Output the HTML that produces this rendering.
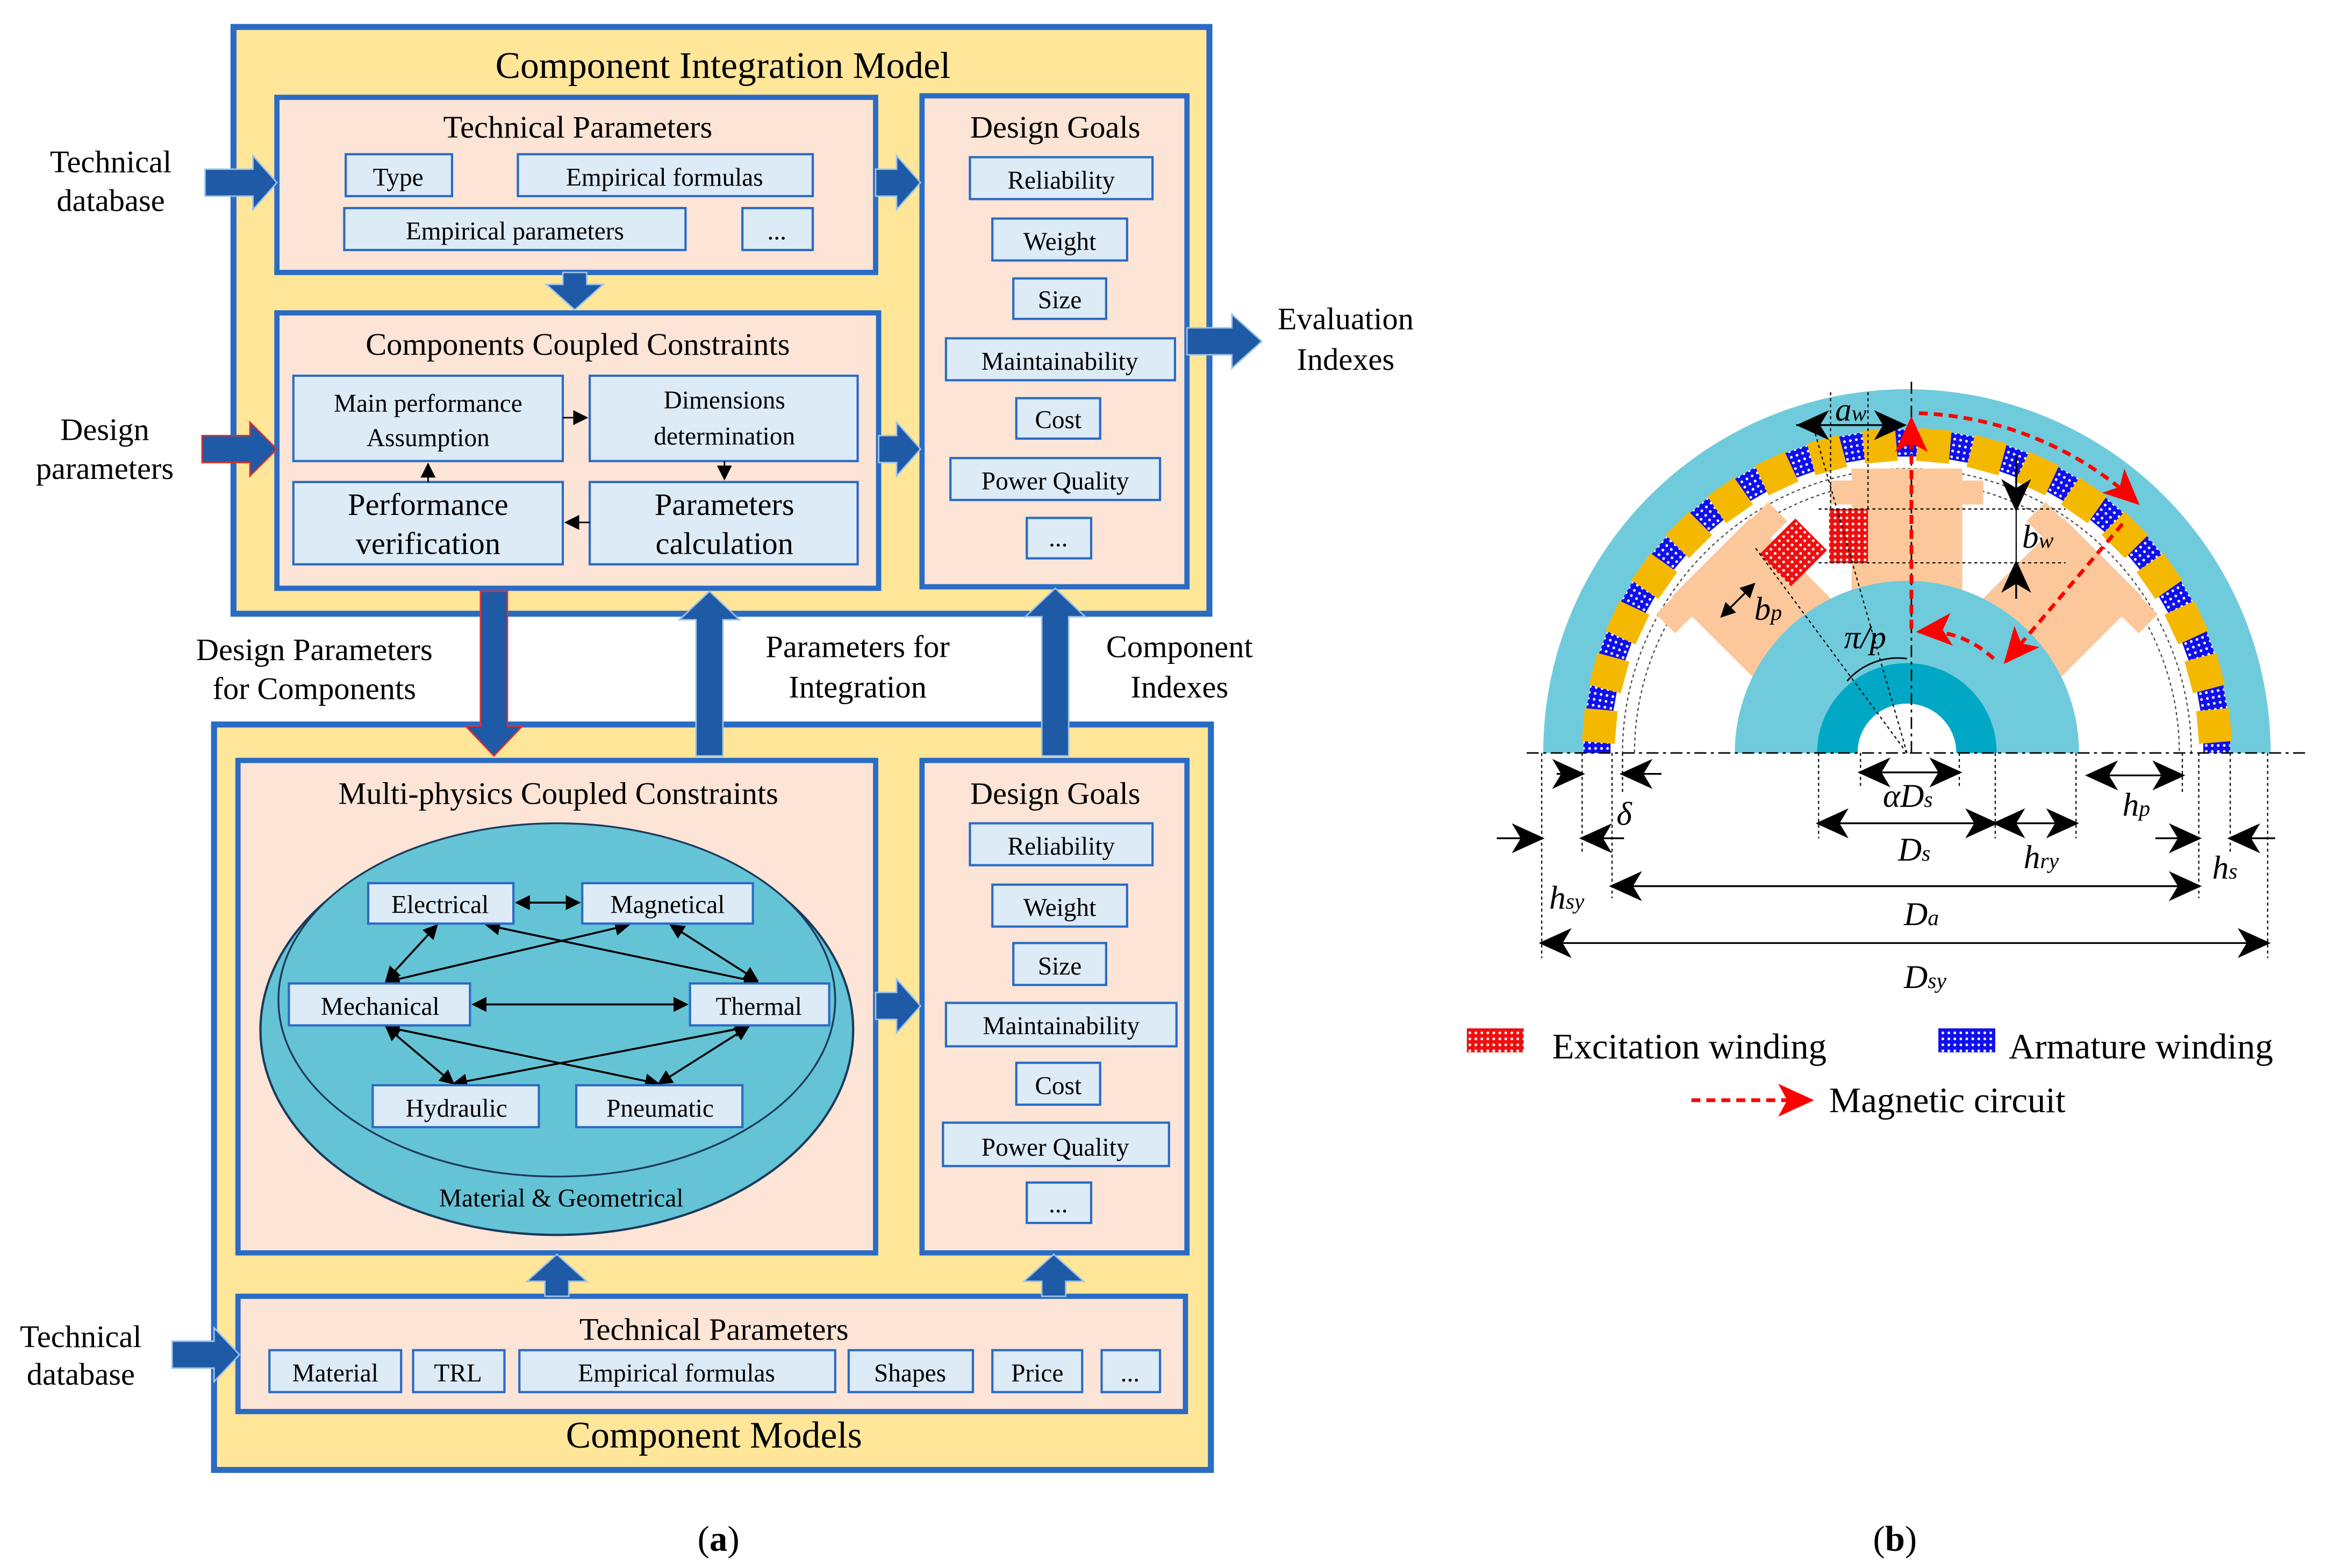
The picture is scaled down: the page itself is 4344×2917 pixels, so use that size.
<!DOCTYPE html>
<html><head><meta charset="utf-8"><style>
html,body{margin:0;padding:0;background:#fff}
svg{display:block}
text{font-family:"Liberation Serif",serif;fill:#000}
</style></head><body>
<svg width="4344" height="2917" viewBox="0 0 1560 1047.5" xmlns="http://www.w3.org/2000/svg">
<defs>
<pattern id="pb" width="4" height="4" patternUnits="userSpaceOnUse"><rect width="4" height="4" fill="#1010ee"/><circle cx="2" cy="2" r="0.9" fill="#fff"/></pattern>
<pattern id="pr" width="4" height="4" patternUnits="userSpaceOnUse"><rect width="4" height="4" fill="#ee1010"/><circle cx="2" cy="2" r="0.9" fill="#fff"/></pattern>
<clipPath id="top"><rect x="1000" y="200" width="560" height="303"/></clipPath>
<marker id="ak" markerWidth="10" markerHeight="10" refX="9" refY="5" orient="auto" markerUnits="userSpaceOnUse"><path d="M0,0 L10,5 L0,10 z" fill="#000"/></marker>
<marker id="akb" markerWidth="10" markerHeight="10" refX="1" refY="5" orient="auto" markerUnits="userSpaceOnUse"><path d="M10,0 L0,5 L10,10 z" fill="#000"/></marker>
<marker id="bk" markerWidth="22" markerHeight="20" refX="20" refY="10" orient="auto" markerUnits="userSpaceOnUse"><path d="M0,0 L22,10 L0,20 L6,10 z" fill="#000"/></marker>
<marker id="bkb" markerWidth="22" markerHeight="20" refX="2" refY="10" orient="auto" markerUnits="userSpaceOnUse"><path d="M22,0 L0,10 L22,20 L16,10 z" fill="#000"/></marker>
<marker id="rk" markerWidth="24" markerHeight="22" refX="22" refY="11" orient="auto" markerUnits="userSpaceOnUse"><path d="M0,0 L24,11 L0,22 L6,11 z" fill="#f00"/></marker>
</defs>

<!-- ===== TOP FRAME ===== -->
<g stroke="#2a6bc4">
<rect x="156" y="18" width="652" height="392" fill="#ffe699" stroke-width="4"/>
<rect x="185" y="65" width="400" height="117" fill="#fce4d6" stroke-width="3.5"/>
<rect x="185" y="209" width="402" height="184" fill="#fce4d6" stroke-width="3.5"/>
<rect x="616" y="64" width="177" height="328" fill="#fce4d6" stroke-width="3.5"/>
</g>
<text x="483" y="52" font-size="25" text-anchor="middle">Component Integration Model</text>
<text x="386" y="92" font-size="21" text-anchor="middle">Technical Parameters</text>
<text x="386" y="237" font-size="21" text-anchor="middle">Components Coupled Constraints</text>
<text x="705" y="92" font-size="21" text-anchor="middle">Design Goals</text>

<g fill="#ddebf7" stroke="#2a6bc4" stroke-width="1.5">
<rect x="231" y="103" width="71" height="28"/><rect x="346" y="103" width="197" height="28"/>
<rect x="230" y="139" width="228" height="28"/><rect x="496" y="139" width="47" height="28"/>
<rect x="196" y="251" width="180" height="57"/><rect x="394" y="251" width="179" height="57"/>
<rect x="196" y="322" width="180" height="55"/><rect x="394" y="322" width="179" height="55"/>
<rect x="648" y="105" width="122" height="28"/><rect x="663" y="146" width="90" height="28"/>
<rect x="677" y="186" width="62" height="27"/><rect x="632" y="226" width="153" height="28"/>
<rect x="679" y="266" width="56" height="27"/><rect x="635" y="306" width="140" height="28"/>
<rect x="686" y="346" width="43" height="27"/>
</g>
<g font-size="17" text-anchor="middle">
<text x="266" y="124">Type</text><text x="444" y="124">Empirical formulas</text>
<text x="344" y="160">Empirical parameters</text><text x="519" y="160">...</text>
<text x="286" y="275">Main  performance</text><text x="286" y="298">Assumption</text>
<text x="484" y="273">Dimensions</text><text x="484" y="297">determination</text>
<text x="286" y="344" font-size="21">Performance</text><text x="286" y="370" font-size="21">verification</text>
<text x="484" y="344" font-size="21">Parameters</text><text x="484" y="370" font-size="21">calculation</text>
<text x="709" y="126">Reliability</text><text x="708" y="167">Weight</text>
<text x="708" y="206">Size</text><text x="708" y="247">Maintainability</text>
<text x="707" y="286">Cost</text><text x="705" y="327">Power Quality</text>
<text x="707" y="365">...</text>
</g>
<g stroke="#000" stroke-width="1.2" fill="none">
<line x1="376" y1="279" x2="392" y2="279" marker-end="url(#ak)" stroke-width="1"/>
<line x1="484" y1="308" x2="484" y2="320" marker-end="url(#ak)" stroke-width="1"/>
<line x1="394" y1="349" x2="378" y2="349" marker-end="url(#ak)" stroke-width="1"/>
<line x1="286" y1="322" x2="286" y2="310" marker-end="url(#ak)" stroke-width="1"/>
</g>

<g font-size="21" text-anchor="middle">
<text x="74" y="115">Technical</text><text x="74" y="141">database</text>
<text x="70" y="294">Design</text><text x="70" y="320">parameters</text>
<text x="899" y="220">Evaluation</text><text x="899" y="247">Indexes</text>
<text x="210" y="441">Design Parameters</text><text x="210" y="467">for Components</text>
<text x="573" y="439">Parameters for</text><text x="573" y="466">Integration</text>
<text x="788" y="439">Component</text><text x="788" y="466">Indexes</text>
<text x="54" y="900">Technical</text><text x="54" y="925">database</text>
<text x="480" y="1036" font-size="24">(<tspan font-weight="bold">a</tspan>)</text>
<text x="1266" y="1036" font-size="24">(<tspan font-weight="bold">b</tspan>)</text>
</g>

<!-- ===== BOTTOM FRAME ===== -->
<g stroke="#2a6bc4">
<rect x="143" y="484" width="666" height="498" fill="#ffe699" stroke-width="4"/>
<rect x="159" y="508" width="426" height="329" fill="#fce4d6" stroke-width="3.5"/>
<rect x="616" y="508" width="177" height="329" fill="#fce4d6" stroke-width="3.5"/>
<rect x="159" y="866" width="633" height="77" fill="#fce4d6" stroke-width="3.5"/>
</g>
<text x="373" y="537" font-size="21" text-anchor="middle">Multi-physics Coupled Constraints</text>
<text x="705" y="537" font-size="21" text-anchor="middle">Design Goals</text>
<text x="477" y="895" font-size="21" text-anchor="middle">Technical Parameters</text>
<text x="477" y="967" font-size="25" text-anchor="middle">Component Models</text>

<ellipse cx="372" cy="688" rx="198" ry="137" fill="#65c3d6" stroke="#1a3a5a" stroke-width="1.5"/>
<ellipse cx="372" cy="668" rx="186" ry="118" fill="#65c3d6" stroke="#1a3a5a" stroke-width="1.2"/>
<text x="375" y="806" font-size="17" text-anchor="middle">Material &amp; Geometrical</text>

<g stroke="#000" stroke-width="1.3" fill="none">
<line x1="345" y1="603" x2="387" y2="603" marker-start="url(#akb)" marker-end="url(#ak)"/>
<line x1="316" y1="671" x2="459" y2="671" marker-start="url(#akb)" marker-end="url(#ak)"/>
<line x1="292" y1="618" x2="258" y2="655" marker-start="url(#akb)" marker-end="url(#ak)"/>
<line x1="448" y1="618" x2="506" y2="655" marker-start="url(#akb)" marker-end="url(#ak)"/>
<line x1="325" y1="618" x2="506" y2="656" marker-start="url(#akb)" marker-end="url(#ak)"/>
<line x1="420" y1="618" x2="258" y2="656" marker-start="url(#akb)" marker-end="url(#ak)"/>
<line x1="258" y1="686" x2="303" y2="724" marker-start="url(#akb)" marker-end="url(#ak)"/>
<line x1="500" y1="686" x2="440" y2="724" marker-start="url(#akb)" marker-end="url(#ak)"/>
<line x1="258" y1="686" x2="440" y2="724" marker-start="url(#akb)" marker-end="url(#ak)"/>
<line x1="500" y1="686" x2="303" y2="724" marker-start="url(#akb)" marker-end="url(#ak)"/>
</g>

<g fill="#ddebf7" stroke="#2a6bc4" stroke-width="1.5">
<rect x="246" y="590" width="97" height="27"/><rect x="389" y="590" width="114" height="27"/>
<rect x="193" y="657" width="121" height="28"/><rect x="461" y="657" width="93" height="28"/>
<rect x="249" y="725" width="111" height="28"/><rect x="385" y="725" width="111" height="28"/>
<rect x="648" y="550" width="122" height="28"/><rect x="663" y="591" width="90" height="28"/>
<rect x="677" y="630" width="62" height="28"/><rect x="632" y="670" width="154" height="29"/>
<rect x="679" y="710" width="56" height="28"/><rect x="630" y="750" width="151" height="29"/>
<rect x="686" y="790" width="43" height="27"/>
<rect x="180" y="902" width="88" height="28"/><rect x="276" y="902" width="61" height="28"/>
<rect x="347" y="902" width="211" height="28"/><rect x="567" y="902" width="83" height="28"/>
<rect x="663" y="902" width="60" height="28"/><rect x="736" y="902" width="39" height="28"/>
</g>
<g font-size="17" text-anchor="middle">
<text x="294" y="610">Electrical</text><text x="446" y="610">Magnetical</text>
<text x="254" y="678">Mechanical</text><text x="507" y="678">Thermal</text>
<text x="305" y="746">Hydraulic</text><text x="441" y="746">Pneumatic</text>
<text x="709" y="571">Reliability</text><text x="708" y="612">Weight</text>
<text x="708" y="651">Size</text><text x="709" y="691">Maintainability</text>
<text x="707" y="731">Cost</text><text x="705" y="772">Power Quality</text>
<text x="707" y="810">...</text>
<text x="224" y="923">Material</text><text x="306" y="923">TRL</text>
<text x="452" y="923">Empirical formulas</text><text x="608" y="923">Shapes</text>
<text x="693" y="923">Price</text><text x="755" y="923">...</text>
</g>

<!-- block arrows (drawn on top) -->
<g fill="#1f5aa6" stroke="#9dc3e6" stroke-width="1">
<polygon points="137,113 169,113 169,104 185,122 169,140 169,131 137,131"/>
<polygon points="135,291 167,291 167,282 185,300 167,318 167,309 135,309" stroke="#e03030"/>
<polygon points="585,113 599,113 599,104 615,122 599,140 599,131 585,131"/>
<polygon points="587,291 599,291 599,282 615,300 599,318 599,309 587,309"/>
<polygon points="793,219 823,219 823,210 843,228 823,246 823,237 793,237"/>
<polygon points="376,182 392,182 392,190 403,190 384,207 365,190 376,190"/>
<polygon points="321,395 339,395 339,485 349,485 330,505 311,485 321,485" stroke="#e03030"/>
<polygon points="465,505 483,505 483,414 494,414 474,395 454,414 465,414"/>
<polygon points="696,505 714,505 714,412 725,412 705,393 685,412 696,412"/>
<polygon points="585,663 599,663 599,654 615,672 599,690 599,681 585,681"/>
<polygon points="364,866 380,866 380,856 392,856 372,838 352,856 364,856"/>
<polygon points="696,866 712,866 712,856 724,856 704,838 684,856 696,856"/>
<polygon points="115,896 143,896 143,887 160,905 143,923 143,914 115,914"/>
</g>

<!-- ===== MOTOR ===== -->
<g clip-path="url(#top)">
<circle cx="1274" cy="503" r="243" fill="#6fcbdc"/>
<circle cx="1274" cy="503" r="216" fill="#fff"/>
<g fill="#f5b800">
<rect x="1472" y="494" width="18" height="18" transform="rotate(-0 1274 503)" fill="url(#pb)"/>
<rect x="1472" y="494" width="18" height="18" transform="rotate(-10 1274 503)" fill="url(#pb)"/>
<rect x="1472" y="494" width="18" height="18" transform="rotate(-20 1274 503)" fill="url(#pb)"/>
<rect x="1472" y="494" width="18" height="18" transform="rotate(-30 1274 503)" fill="url(#pb)"/>
<rect x="1472" y="494" width="18" height="18" transform="rotate(-40 1274 503)" fill="url(#pb)"/>
<rect x="1472" y="494" width="18" height="18" transform="rotate(-50 1274 503)" fill="url(#pb)"/>
<rect x="1472" y="494" width="18" height="18" transform="rotate(-60 1274 503)" fill="url(#pb)"/>
<rect x="1472" y="494" width="18" height="18" transform="rotate(-70 1274 503)" fill="url(#pb)"/>
<rect x="1472" y="494" width="18" height="18" transform="rotate(-80 1274 503)" fill="url(#pb)"/>
<rect x="1472" y="494" width="18" height="18" transform="rotate(-90 1274 503)" fill="url(#pb)"/>
<rect x="1472" y="494" width="18" height="18" transform="rotate(-100 1274 503)" fill="url(#pb)"/>
<rect x="1472" y="494" width="18" height="18" transform="rotate(-110 1274 503)" fill="url(#pb)"/>
<rect x="1472" y="494" width="18" height="18" transform="rotate(-120 1274 503)" fill="url(#pb)"/>
<rect x="1472" y="494" width="18" height="18" transform="rotate(-130 1274 503)" fill="url(#pb)"/>
<rect x="1472" y="494" width="18" height="18" transform="rotate(-140 1274 503)" fill="url(#pb)"/>
<rect x="1472" y="494" width="18" height="18" transform="rotate(-150 1274 503)" fill="url(#pb)"/>
<rect x="1472" y="494" width="18" height="18" transform="rotate(-160 1274 503)" fill="url(#pb)"/>
<rect x="1472" y="494" width="18" height="18" transform="rotate(-170 1274 503)" fill="url(#pb)"/>
<rect x="1472" y="494" width="18" height="18" transform="rotate(-180 1274 503)" fill="url(#pb)"/>
<rect x="1469" y="492" width="22" height="22" transform="rotate(-5 1274 503)"/>
<rect x="1469" y="492" width="22" height="22" transform="rotate(-15 1274 503)"/>
<rect x="1469" y="492" width="22" height="22" transform="rotate(-25 1274 503)"/>
<rect x="1469" y="492" width="22" height="22" transform="rotate(-35 1274 503)"/>
<rect x="1469" y="492" width="22" height="22" transform="rotate(-45 1274 503)"/>
<rect x="1469" y="492" width="22" height="22" transform="rotate(-55 1274 503)"/>
<rect x="1469" y="492" width="22" height="22" transform="rotate(-65 1274 503)"/>
<rect x="1469" y="492" width="22" height="22" transform="rotate(-75 1274 503)"/>
<rect x="1469" y="492" width="22" height="22" transform="rotate(-85 1274 503)"/>
<rect x="1469" y="492" width="22" height="22" transform="rotate(-95 1274 503)"/>
<rect x="1469" y="492" width="22" height="22" transform="rotate(-105 1274 503)"/>
<rect x="1469" y="492" width="22" height="22" transform="rotate(-115 1274 503)"/>
<rect x="1469" y="492" width="22" height="22" transform="rotate(-125 1274 503)"/>
<rect x="1469" y="492" width="22" height="22" transform="rotate(-135 1274 503)"/>
<rect x="1469" y="492" width="22" height="22" transform="rotate(-145 1274 503)"/>
<rect x="1469" y="492" width="22" height="22" transform="rotate(-155 1274 503)"/>
<rect x="1469" y="492" width="22" height="22" transform="rotate(-165 1274 503)"/>
<rect x="1469" y="492" width="22" height="22" transform="rotate(-175 1274 503)"/>
</g>
<circle cx="1274" cy="503" r="190" fill="none" stroke="#444" stroke-width="0.8" stroke-dasharray="2,2"/>
<circle cx="1274" cy="503" r="182" fill="none" stroke="#444" stroke-width="0.8" stroke-dasharray="2,2"/>
<g fill="#fcc89b">
<g transform="rotate(-90 1274 503)"><rect x="1364" y="466" width="100" height="74"/><polygon points="1440,452 1456,452 1456,554 1440,554"/></g>
<g transform="rotate(-45 1274 503)"><rect x="1364" y="466" width="95" height="74"/><polygon points="1440,450 1458,450 1458,556 1440,556"/></g>
<g transform="rotate(-135 1274 503)"><rect x="1364" y="466" width="95" height="74"/><polygon points="1440,450 1458,450 1458,556 1440,556"/></g>
</g>
<rect x="1222" y="340" width="26" height="36" fill="url(#pr)"/>
<rect x="1183" y="352" width="30" height="34" fill="url(#pr)" transform="rotate(45 1198 369)"/>
<circle cx="1274" cy="503" r="115" fill="#6fcbdc"/>
<circle cx="1274" cy="503" r="60" fill="#00a8c6"/>
<circle cx="1274" cy="503" r="33" fill="#fff"/>
</g>
<!-- construction lines -->
<g stroke="#000" stroke-width="0.8" fill="none" stroke-dasharray="2,2">
<line x1="1215" y1="340" x2="1380" y2="340"/><line x1="1215" y1="376" x2="1380" y2="376"/>
<line x1="1223" y1="262" x2="1223" y2="340"/><line x1="1248" y1="262" x2="1248" y2="340"/>
<line x1="1274" y1="503" x2="1172" y2="365"/><line x1="1274" y1="503" x2="1210" y2="280"/>
<line x1="1030" y1="503" x2="1030" y2="640"/><line x1="1515" y1="503" x2="1515" y2="640"/>
<line x1="1057" y1="503" x2="1057" y2="570"/><line x1="1077" y1="503" x2="1077" y2="600"/>
<line x1="1084" y1="503" x2="1084" y2="530"/><line x1="1469" y1="503" x2="1469" y2="600"/>
<line x1="1490" y1="503" x2="1490" y2="570"/><line x1="1458" y1="503" x2="1458" y2="530"/>
<line x1="1215" y1="503" x2="1215" y2="560"/><line x1="1333" y1="503" x2="1333" y2="560"/>
<line x1="1243" y1="503" x2="1243" y2="525"/><line x1="1309" y1="503" x2="1309" y2="525"/>
<line x1="1387" y1="503" x2="1387" y2="560"/>
</g>
<line x1="1020" y1="503" x2="1540" y2="503" stroke="#000" stroke-width="1" stroke-dasharray="8,3,2,3"/>
<line x1="1277" y1="255" x2="1277" y2="503" stroke="#000" stroke-width="1" stroke-dasharray="8,3,2,3"/>
<path d="M1234 455 A 45 45 0 0 1 1274 440" fill="none" stroke="#000" stroke-width="1"/>
<!-- dimensions -->
<g stroke="#000" stroke-width="1.2" fill="none">
<line x1="1200" y1="284" x2="1272" y2="284" marker-end="url(#bk)"/>
<line x1="1245" y1="284" x2="1202" y2="284" marker-end="url(#bk)"/>
<line x1="1347" y1="305" x2="1347" y2="340" marker-end="url(#bk)"/>
<line x1="1347" y1="400" x2="1347" y2="376" marker-end="url(#bk)"/>
<line x1="1347" y1="340" x2="1347" y2="376" stroke-width="0.8"/>
<line x1="1150" y1="412" x2="1172" y2="390" marker-start="url(#akb)" marker-end="url(#ak)"/>
<line x1="1243" y1="516" x2="1309" y2="516" marker-start="url(#bkb)" marker-end="url(#bk)"/>
<line x1="1215" y1="550" x2="1333" y2="550" marker-start="url(#bkb)" marker-end="url(#bk)"/>
<line x1="1333" y1="550" x2="1387" y2="550" marker-start="url(#bkb)" marker-end="url(#bk)"/>
<line x1="1395" y1="518" x2="1458" y2="518" marker-start="url(#bkb)" marker-end="url(#bk)"/>
<line x1="1040" y1="517" x2="1057" y2="517" marker-end="url(#bk)"/>
<line x1="1110" y1="517" x2="1084" y2="517" marker-end="url(#bk)"/>
<line x1="1000" y1="560" x2="1030" y2="560" marker-end="url(#bk)"/>
<line x1="1085" y1="560" x2="1057" y2="560" marker-end="url(#bk)"/>
<line x1="1440" y1="560" x2="1469" y2="560" marker-end="url(#bk)"/>
<line x1="1520" y1="560" x2="1490" y2="560" marker-end="url(#bk)"/>
<line x1="1077" y1="592" x2="1469" y2="592" marker-start="url(#bkb)" marker-end="url(#bk)"/>
<line x1="1030" y1="630" x2="1515" y2="630" marker-start="url(#bkb)" marker-end="url(#bk)"/>
</g>
<!-- magnetic circuit -->
<g stroke="#f00" stroke-width="2.5" fill="none" stroke-dasharray="6,4">
<line x1="1277" y1="420" x2="1277" y2="280" marker-end="url(#rk)"/>
<path d="M1282 276 A 228 228 0 0 1 1428 336" marker-end="url(#rk)"/>
<line x1="1418" y1="350" x2="1340" y2="442" marker-end="url(#rk)"/>
<path d="M1332 440 Q 1310 420 1282 422" marker-end="url(#rk)"/>
</g>
<g font-size="22" font-style="italic">
<text x="1226" y="281">a<tspan font-size="15">w</tspan></text>
<text x="1351" y="366">b<tspan font-size="15">w</tspan></text>
<text x="1172" y="414">b<tspan font-size="15">p</tspan></text>
<text x="1232" y="433">π/p</text>
<text x="1258" y="539">αD<tspan font-size="15">s</tspan></text>
<text x="1080" y="551">δ</text>
<text x="1268" y="575">D<tspan font-size="15">s</tspan></text>
<text x="1352" y="580">h<tspan font-size="15">ry</tspan></text>
<text x="1418" y="545">h<tspan font-size="15">p</tspan></text>
<text x="1478" y="587">h<tspan font-size="15">s</tspan></text>
<text x="1035" y="607">h<tspan font-size="15">sy</tspan></text>
<text x="1272" y="618">D<tspan font-size="15">a</tspan></text>
<text x="1272" y="660">D<tspan font-size="15">sy</tspan></text>
</g>
<!-- legend -->
<rect x="980" y="687" width="38" height="16" fill="url(#pr)"/>
<text x="1037" y="707" font-size="24">Excitation winding</text>
<rect x="1295" y="687" width="38" height="16" fill="url(#pb)"/>
<text x="1342" y="707" font-size="24">Armature winding</text>
<line x1="1130" y1="735" x2="1210" y2="735" stroke="#f00" stroke-width="2.5" stroke-dasharray="6,4" marker-end="url(#rk)"/>
<text x="1222" y="743" font-size="24">Magnetic circuit</text>
</svg>
</body></html>
